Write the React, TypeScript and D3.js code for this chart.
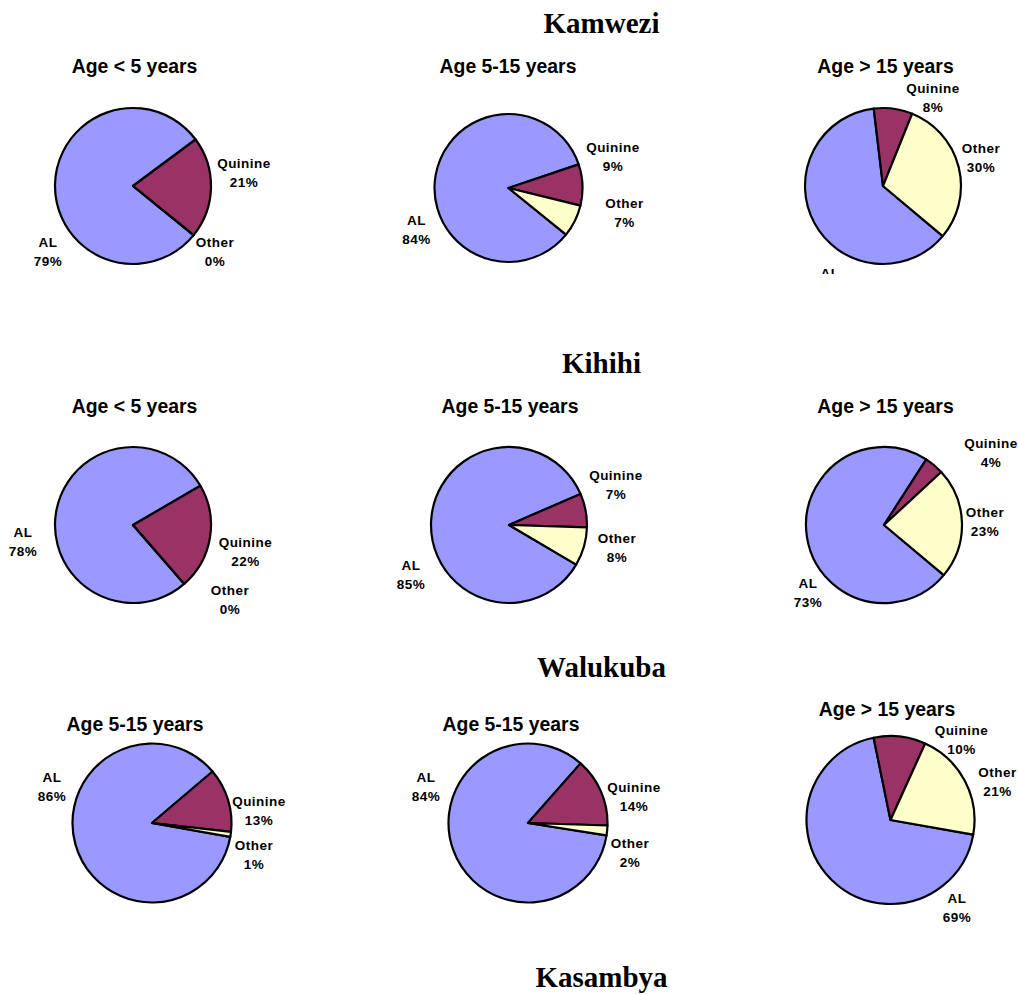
import React from 'react';
import * as d3 from 'd3';

// data
const regions = ['Kamwezi', 'Kihihi', 'Walukuba', 'Kasambya'];
const categories = ['AL', 'Quinine', 'Other'];
const panelTitles = [
  ['Age < 5 years', 'Age 5-15 years', 'Age > 15 years'],
  ['Age < 5 years', 'Age 5-15 years', 'Age > 15 years'],
  ['Age 5-15 years', 'Age 5-15 years', 'Age > 15 years'],
];
const kamweziValues = [[79, 21, 0], [84, 9, 7], [62, 8, 30]];
const kihihiValues = [[78, 22, 0], [85, 7, 8], [73, 4, 23]];
const walukubaValues = [[86, 13, 1], [84, 14, 2], [69, 10, 21]];
const regionValues = [kamweziValues, kihihiValues, walukubaValues];

const colors = ['#9999FF', '#993366', '#FFFFCC'];

// layout (pixels) for each panel: pie center, radius, rotation of first slice
// (degrees clockwise from 12 o'clock), title anchor, label offsets from center
const W = 1018;
const H = 994;
const regionTitleY = [33, 373, 677, 987];
const rowClip = [274, 640, 960];

type Panel = {
  cx: number; cy: number; r: number; rot: number;
  tx: number; ty: number;
  labels: [number, number][];
};

const panels: Panel[][] = [
  [
    { cx: 133, cy: 186, r: 78, rot: 129, tx: 134.5, ty: 73, labels: [[-85, 61], [111, -18], [82, 61]] },
    { cx: 508.5, cy: 188, r: 74, rot: 129, tx: 508, ty: 73, labels: [[-92, 37], [104.5, -36], [116, 20]] },
    { cx: 883, cy: 186, r: 78, rot: 130, tx: 885.5, ty: 73, labels: [[-53, 92], [50, -93], [98, -33]] },
  ],
  [
    { cx: 133, cy: 525, r: 78, rot: 139, tx: 134.5, ty: 413, labels: [[-110, 12], [112.5, 22], [97, 70]] },
    { cx: 509, cy: 525, r: 78, rot: 120.5, tx: 510, ty: 413, labels: [[-98, 45], [107, -45], [108, 18]] },
    { cx: 884, cy: 525, r: 78, rot: 130, tx: 885.5, ty: 413, labels: [[-76, 63], [107, -77], [101, -8]] },
  ],
  [
    { cx: 152, cy: 823, r: 79.5, rot: 100, tx: 135, ty: 731, labels: [[-100, -41], [107, -17], [102, 27]] },
    { cx: 528, cy: 823, r: 79.5, rot: 99, tx: 511, ty: 731, labels: [[-102, -41], [106, -31], [102, 25]] },
    { cx: 890.5, cy: 820, r: 84, rot: 100, tx: 887, ty: 716, labels: [[66.5, 83], [71, -85], [107, -43]] },
  ],
];

const labelFont = '"Liberation Sans", Arial, sans-serif';
const titleFont = '"Liberation Serif", "Times New Roman", serif';

const PieChart = ({ values, title, p, clipId, clipBottom }: {
  values: number[]; title: string; p: Panel; clipId: string; clipBottom: number;
}) => {
  const start = (p.rot * Math.PI) / 180;
  const pie = d3.pie<number>().sort(null).startAngle(start).endAngle(start + 2 * Math.PI);
  const arc = d3.arc<d3.PieArcDatum<number>>().innerRadius(0).outerRadius(p.r);
  const slices = pie(values);
  return (
    <g clipPath={`url(#${clipId})`}>
      <defs>
        <clipPath id={clipId}>
          <rect x={p.cx - 190} y={p.ty - 40} width={380} height={clipBottom - (p.ty - 40)} />
        </clipPath>
      </defs>
      <text x={p.tx} y={p.ty} textAnchor="middle" fontFamily={labelFont} fontWeight="bold" fontSize={19.4}>
        {title}
      </text>
      <g transform={`translate(${p.cx},${p.cy})`}>
        {slices.map((s, i) => (
          <path key={i} d={arc(s) || ''} fill={colors[i]} stroke="#000" strokeWidth={2.2} strokeLinejoin="round" />
        ))}
      </g>
      {categories.map((c, i) => (
        <text key={c} x={p.cx + p.labels[i][0]} y={p.cy + p.labels[i][1]} textAnchor="middle"
          fontFamily={labelFont} fontWeight="bold" fontSize={13.5} letterSpacing={0.5}>
          <tspan x={p.cx + p.labels[i][0]}>{c}</tspan>
          <tspan x={p.cx + p.labels[i][0]} dy={19}>{values[i]}%</tspan>
        </text>
      ))}
    </g>
  );
};

export default function App() {
  return (
    <svg width={W} height={H} style={{ position: 'absolute', left: 0, top: 0, background: '#fff' }}>
      <rect width={W} height={H} fill="#fff" />
      {regions.map((name, i) => (
        <text key={name} x={601.5} y={regionTitleY[i]} textAnchor="middle" fontFamily={titleFont}
          fontWeight="bold" fontSize={29}>
          {name}
        </text>
      ))}
      {regionValues.map((rows, ri) =>
        rows.map((vals, ci) => (
          <PieChart key={`${ri}-${ci}`} values={vals} title={panelTitles[ri][ci]} p={panels[ri][ci]}
            clipId={`clip-${ri}-${ci}`} clipBottom={rowClip[ri]} />
        ))
      )}
    </svg>
  );
}
